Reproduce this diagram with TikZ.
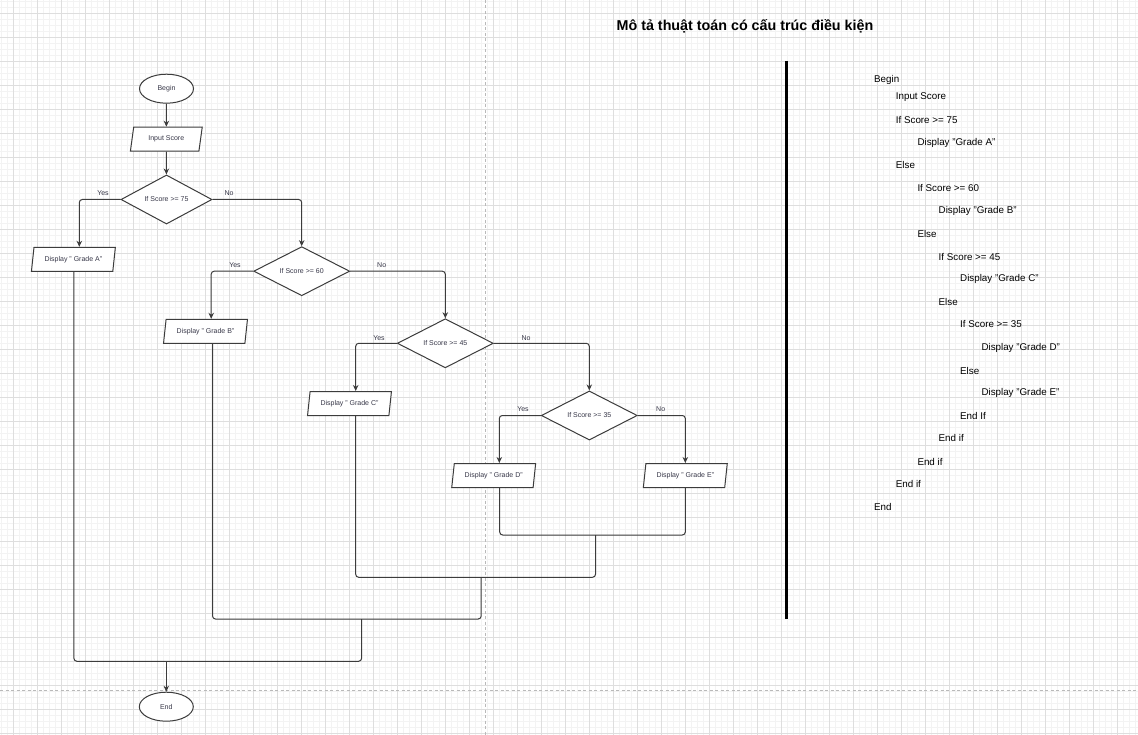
\documentclass[tikz,border=0pt]{standalone}
\usepackage{fontspec}
\setmainfont{Liberation Sans}
\usetikzlibrary{shapes.geometric,arrows.meta}

\definecolor{linec}{RGB}{60,60,60}
\definecolor{textc}{RGB}{55,55,72}
\definecolor{gridmaj}{RGB}{222,222,222}
\definecolor{gridmin}{RGB}{243,243,243}
\definecolor{pagec}{RGB}{185,185,185}

\newcommand{\fcfont}{\fontsize{7}{8}\selectfont}
\newcommand{\codefont}{\fontsize{9.8}{11}\selectfont}
\newcommand{\headfont}{\fontsize{14.3}{16}\selectfont\bfseries}

\tikzset{
  term/.style={ellipse, draw=linec, fill=white, line width=1pt, minimum width=54pt, minimum height=29pt, inner sep=0pt, font=\fcfont, text=textc},
  io/.style={trapezium, trapezium left angle=74, trapezium right angle=106, trapezium stretches=true, draw=linec, fill=white, line width=1pt, minimum width=84pt, minimum height=24pt, inner sep=0pt, font=\fcfont, text=textc},
  test/.style={diamond, draw=linec, fill=white, line width=1pt, minimum width=96pt, minimum height=48pt, inner sep=0pt, font=\fcfont, text=textc},
  flow/.style={draw=linec, line width=1pt, rounded corners=3pt, -{Stealth[length=6pt,width=5.5pt]}},
  joinline/.style={draw=linec, line width=1pt, rounded corners=3pt},
  lbl/.style={font=\fcfont, text=textc, inner sep=0pt},
  code/.style={anchor=west, font=\codefont, inner sep=0pt},
}

\begin{document}
\begin{tikzpicture}[x=1pt, y=-1pt]
  \useasboundingbox (0,0) rectangle (1138,735);

  % grid and page breaks
  \foreach \gx in {1.3,7.3,...,1138} \draw[gridmin, line width=0.5pt] (\gx,0) -- (\gx,735);
  \foreach \gy in {1.3,7.3,...,735} \draw[gridmin, line width=0.5pt] (0,\gy) -- (1138,\gy);
  \foreach \gx in {13.3,37.3,...,1138} \draw[gridmaj, line width=0.8pt] (\gx,0) -- (\gx,735);
  \foreach \gy in {13.3,37.3,...,735} \draw[gridmaj, line width=0.8pt] (0,\gy) -- (1138,\gy);
  \draw[pagec, line width=0.8pt, dash pattern=on 3pt off 2.5pt] (485.7,0) -- (485.7,735);
  \draw[pagec, line width=0.8pt, dash pattern=on 3pt off 2.5pt] (0,690.3) -- (1138,690.3);

  % Title
  \node[font=\headfont] (title) at (745,26) {Mô tả thuật toán có cấu trúc điều kiện};

  % Nodes
  \node[term] at (166.5,88.7) (start) {Begin};
  \node[io, minimum width=72pt] at (166.3,139.2) (input) {Input Score};
  \node[test, minimum width=91pt] at (166.5,199.5) (if75) {If Score >= 75};
  \node[io] at (73.4,259.3) (gradeA) {Display " Grade A"};
  \node[test] at (301.7,271.2) (if60) {If Score >= 60};
  \node[io] at (205.5,331.3) (gradeB) {Display " Grade B"};
  \node[test] at (445.3,343.3) (if45) {If Score >= 45};
  \node[io] at (349.5,403.5) (gradeC) {Display " Grade C"};
  \node[test] at (589.3,415.5) (if35) {If Score >= 35};
  \node[io] at (493.7,475.5) (gradeD) {Display " Grade D"};
  \node[io] at (685.3,475.5) (gradeE) {Display " Grade E"};
  \node[term] at (166.3,706.7) (stop) {End};

  % branch labels
  \node[lbl] at (103,193.3) (yes75) {Yes};
  \node[lbl] at (229,193.3) (no75) {No};
  \node[lbl] at (235,265.3) (yes60) {Yes};
  \node[lbl] at (381.7,265.3) (no60) {No};
  \node[lbl] at (379,337.7) (yes45) {Yes};
  \node[lbl] at (526,337.7) (no45) {No};
  \node[lbl] at (523,409.3) (yes35) {Yes};
  \node[lbl] at (660.7,409.3) (no35) {No};

  \draw[flow] (start) -- (input);
  \draw[flow] (input) -- (if75);
  \draw[flow] (if75.west) -| ([xshift=5.9pt]gradeA.north);
  \draw[flow] (if75.east) -| (if60.north);
  \draw[flow] (if60.west) -| ([xshift=5.7pt]gradeB.north);
  \draw[flow] (if60.east) -| (if45.north);
  \draw[flow] (if45.west) -| ([xshift=6.2pt]gradeC.north);
  \draw[flow] (if45.east) -| (if35.north);
  \draw[flow] (if35.west) -| ([xshift=5.6pt]gradeD.north);
  \draw[flow] (if35.east) -| (gradeE.north);

  % joining lines
  \coordinate (mergeDE) at (595.5,535);
  \coordinate (cornerC) at (595.5,577.3);
  \coordinate (dropC) at (481.2,577.3);
  \coordinate (cornerB) at (481.2,619);
  \coordinate (dropB) at (361.6,619);
  \coordinate (cornerA) at (361.6,661.3);
  \coordinate (dropA) at (166.3,661.3);

  \draw[joinline] ([xshift=6pt]gradeD.south) |- (mergeDE) -| (gradeE.south);
  \draw[joinline] ([xshift=6.2pt]gradeC.south) |- (cornerC) -- (mergeDE);
  \draw[joinline] ([xshift=7pt]gradeB.south) |- (cornerB) -- (dropC);
  \draw[joinline] ([xshift=0.5pt]gradeA.south) |- (cornerA) -- (dropB);
  \draw[flow, line width=0.8pt] (dropA) -- (stop);

  % divider
  \draw[black, line width=2.6pt] (786.7,61) -- (786.7,618.6);

  % pseudo code
  \node[code] at (874,80) (c1) {Begin};
  \node[code] at (895.7,96.7) (c2) {Input Score};
  \node[code] at (895.7,120) (c3) {If Score >= 75};
  \node[code] at (917.3,142.7) (c4) {Display "Grade A"};
  \node[code] at (895.7,165) (c5) {Else};
  \node[code] at (917.3,187.7) (c6) {If Score >= 60};
  \node[code] at (938.5,210.7) (c7) {Display "Grade B"};
  \node[code] at (917.3,233.7) (c8) {Else};
  \node[code] at (938.5,256.7) (c9) {If Score >= 45};
  \node[code] at (960,279) (c10) {Display "Grade C"};
  \node[code] at (938.5,301.7) (c11) {Else};
  \node[code] at (960,324.3) (c12) {If Score >= 35};
  \node[code] at (981.3,347.7) (c13) {Display "Grade D"};
  \node[code] at (960,370.7) (c14) {Else};
  \node[code] at (981.3,392.7) (c15) {Display "Grade E"};
  \node[code] at (960,415.7) (c16) {End If};
  \node[code] at (938.5,438.3) (c17) {End if};
  \node[code] at (917.3,461.7) (c18) {End if};
  \node[code] at (895.7,484.3) (c19) {End if};
  \node[code] at (874,506.7) (c20) {End};

\end{tikzpicture}
\end{document}
